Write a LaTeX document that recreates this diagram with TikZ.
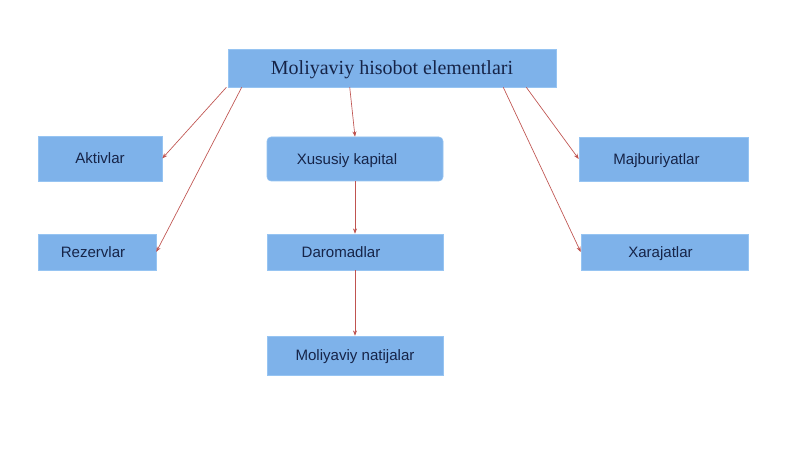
\documentclass[tikz,border=0pt]{standalone}
\usepackage{fontspec}
\setmainfont{Liberation Serif}
\setsansfont{Liberation Sans}
\usetikzlibrary{arrows.meta}
\definecolor{boxblue}{RGB}{126,178,234}
\definecolor{boxline}{RGB}{150,196,242}
\definecolor{boxtext}{RGB}{22,36,72}
\definecolor{arrred}{RGB}{192,84,80}
\begin{document}
\begin{tikzpicture}[x=0.75pt,y=-0.75pt,
	every node/.style={draw=boxline, fill=boxblue, text=boxtext, inner sep=0pt, text depth=0pt, font=\sffamily\fontsize{11.3}{13}\selectfont},
	nudge/.style={execute at begin node={\hspace*{-#1}}},
	every edge/.style={draw=arrred, line width=0.5pt, -{Stealth[length=4pt,width=3pt]}}]
	
	\useasboundingbox[fill=white] (0,0) rectangle (800,449);
	
	\node[minimum width=246pt, minimum height=28.5pt, font=\rmfamily\fontsize{15}{17}\selectfont] (title) at (392,68) {Moliyaviy hisobot elementlari};
	\node[minimum width=93pt, minimum height=33.75pt] (akt) at (100,158.5) {Aktivlar};
	\node[minimum width=88.5pt, minimum height=27pt, nudge=6pt] (rez) at (97,252) {Rezervlar};
	\node[minimum width=132pt, minimum height=33pt, rounded corners=3pt, nudge=12pt] (kap) at (355,159) {Xususiy kapital};
	\node[minimum width=132pt, minimum height=27pt, nudge=21pt] (dar) at (355,252) {Daromadlar};
	\node[minimum width=132pt, minimum height=29.25pt] (nat) at (355,355.5) {Moliyaviy natijalar};
	\node[minimum width=126.75pt, minimum height=33pt, nudge=10.5pt] (maj) at (663.5,159) {Majburiyatlar};
	\node[minimum width=125.25pt, minimum height=27pt, nudge=6pt] (xar) at (664.5,252) {Xarajatlar};
	
	\path ([xshift=-1pt]title.south west) edge (akt.east);
	\path ([xshift=10.5pt]title.south west) edge (rez.east);
	\path ([xshift=91.5pt]title.south west) edge ([xshift=0pt]kap.north);
	\path ([xshift=-22.5pt]title.south east) edge (maj.west);
	\path ([xshift=-39.75pt]title.south east) edge (xar.west);
	\path (kap) edge (dar);
	\path (dar) edge (nat);
	
\end{tikzpicture}
\end{document}
